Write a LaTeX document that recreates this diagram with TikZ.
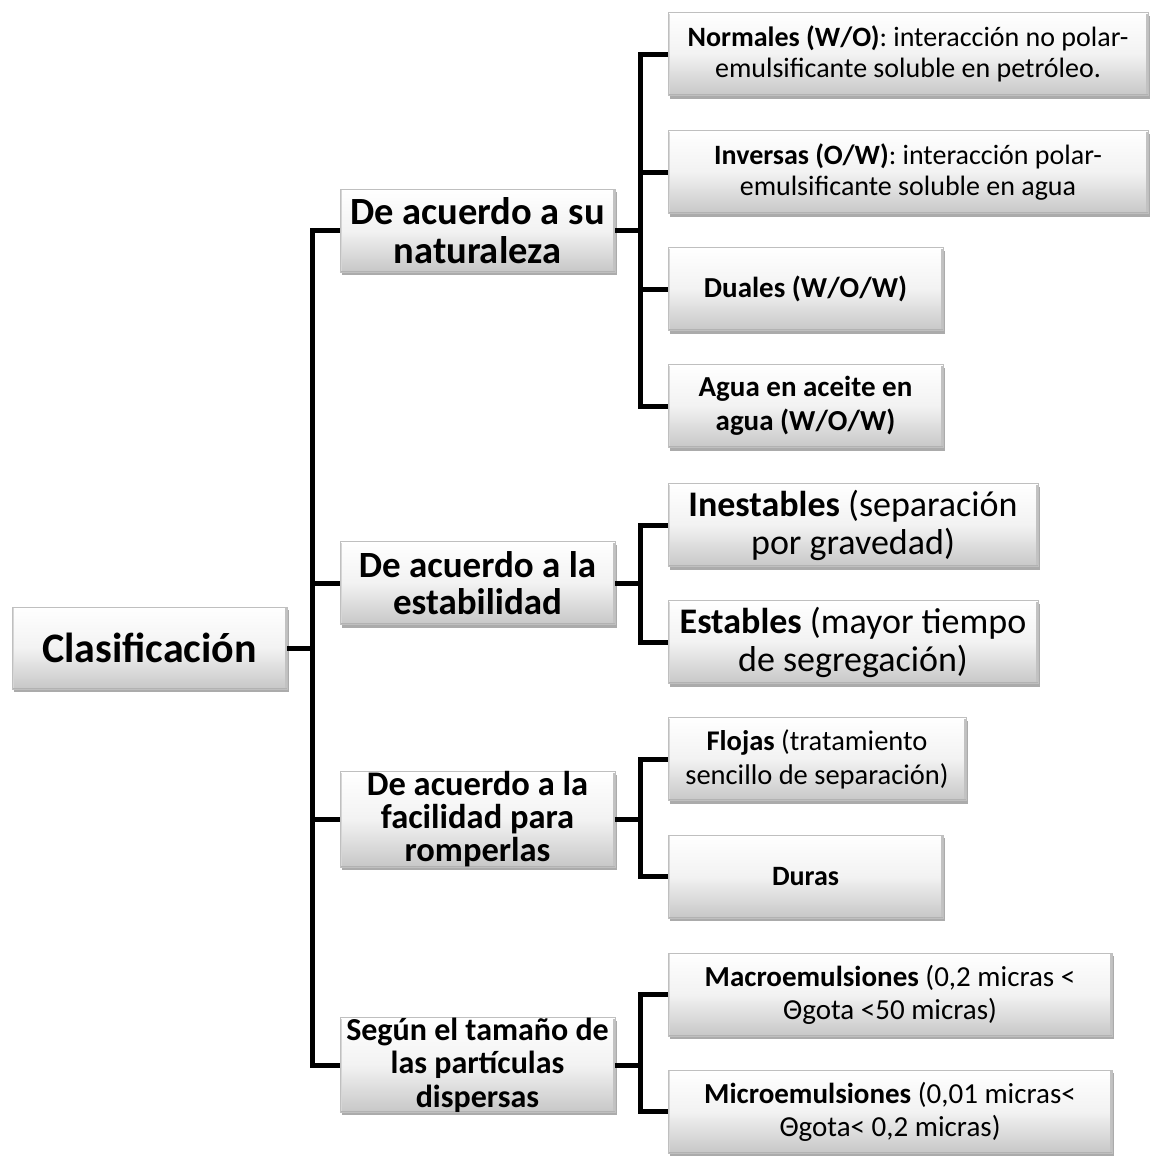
\documentclass[tikz,border=0pt]{standalone}
\usepackage{fontspec}
\setmainfont{Carlito}
\usetikzlibrary{shadows}
\tikzset{
  bx/.style={draw=black!25, line width=0.8pt,
    top color=white, bottom color=black!22, middle color=black!5,
    drop shadow={shadow xshift=2pt, shadow yshift=-3pt, fill=black, opacity=0.33},
    inner sep=0pt, align=center, text=black,
    path picture={
      \draw[black!16, line width=4pt] (path picture bounding box.south west) -- (path picture bounding box.north west);
      \draw[black!24, line width=4pt] (path picture bounding box.south east) -- (path picture bounding box.north east);
      \draw[white, line width=2pt] (path picture bounding box.north west) -- (path picture bounding box.north east);
      \draw[black!30, line width=3pt] (path picture bounding box.south west) -- (path picture bounding box.south east);
    }},
  lvone/.style={bx, minimum width=275pt, minimum height=83pt},
  lvtwo/.style={bx, minimum height=83pt},
  conn/.style={line width=5pt, black}
}
\begin{document}
\begin{tikzpicture}[x=1pt, y=-1pt]
\fill[white] (0,0) rectangle (1150,1173);
\useasboundingbox (0,0) rectangle (1150,1173);

% root
\node[bx, minimum width=275pt, minimum height=82pt, font=\bfseries\fontsize{42}{50}\selectfont] (cl) at (149.5,648) {Clasificación};

% level 1
\node[lvone, font=\bfseries\fontsize{38.5}{39}\selectfont] (l1) at (477.5,230.5) {De acuerdo a su\\naturaleza};
\node[lvone, font=\bfseries\fontsize{37}{37.5}\selectfont] (l2) at (477.5,583) {De acuerdo a la\\estabilidad};
\node[lvone, minimum height=85pt, font=\bfseries\fontsize{34.5}{33}\selectfont] (l3) at (477.5,819.5) {De acuerdo a la\\facilidad para\\romperlas};
\node[lvone, minimum height=84pt, font=\bfseries\fontsize{32}{33.5}\selectfont] (l4) at (477.5,1065) {Según el tamaño de\\las partículas\\dispersas};

% level 2 - naturaleza
\node[lvtwo, minimum width=480pt, font=\fontsize{28}{30.5}\selectfont] (a1) at (908,54)
  {\textbf{Normales (W/O)}: interacción no polar-\\emulsificante soluble en petróleo.};
\node[lvtwo, minimum width=480pt, font=\fontsize{28}{30.5}\selectfont] (a2) at (908,172)
  {\textbf{Inversas (O/W)}: interacción polar-\\emulsificante soluble en agua};
\node[lvtwo, minimum width=275pt, font=\bfseries\fontsize{29}{35}\selectfont] (a3) at (805.5,289)
  {Duales (W/O/W)};
\node[lvtwo, minimum width=275pt, font=\bfseries\fontsize{29}{34}\selectfont] (a4) at (805.5,406)
  {Agua en aceite en\\agua (W/O/W)};

% level 2 - estabilidad
\node[lvtwo, minimum width=370pt, font=\fontsize{36}{38}\selectfont] (b1) at (853,525)
  {\textbf{Inestables} (separación\\por gravedad)};
\node[lvtwo, minimum width=370pt, font=\fontsize{36}{38}\selectfont] (b2) at (853,642)
  {\textbf{Estables} (mayor tiempo\\de segregación)};

% level 2 - facilidad
\node[lvtwo, minimum width=298pt, font=\fontsize{28.5}{34}\selectfont] (c1) at (817,759)
  {\textbf{Flojas} (tratamiento\\sencillo de separación)};
\node[lvtwo, minimum width=275pt, font=\bfseries\fontsize{28}{32}\selectfont] (c2) at (805.5,876.5)
  {Duras};

% level 2 - tamaño
\node[lvtwo, minimum width=444pt, font=\fontsize{29}{33}\selectfont] (d1) at (890,994.5)
  {\textbf{Macroemulsiones} (0,2 micras <\\Θgota <50 micras)};
\node[lvtwo, minimum width=444pt, font=\fontsize{29}{33}\selectfont] (d2) at (890,1111.5)
  {\textbf{Microemulsiones} (0,01 micras<\\Θgota< 0,2 micras)};

% connectors root
\coordinate (trunk) at (313,0);
\draw[conn] (cl.east) -- (cl.east -| trunk);
\draw[conn] (l1.west) -- ++(-27,0) |- (l4.west);
\draw[conn] (l2.west) -- ++(-27,0);
\draw[conn] (l3.west) -- ++(-27,0);

% connectors group a
\draw[conn] (a1.west) -- ++(-27,0) |- (a4.west);
\draw[conn] (a2.west) -- ++(-27,0);
\draw[conn] (a3.west) -- ++(-27,0);
\draw[conn] (l1.east) -- ++(26,0);

% group b
\draw[conn] (b1.west) -- ++(-27,0) |- (b2.west);
\draw[conn] (l2.east) -- ++(26,0);

% group c
\draw[conn] (c1.west) -- ++(-27,0) |- (c2.west);
\draw[conn] (l3.east) -- ++(26,0);

% group d
\draw[conn] (d1.west) -- ++(-27,0) |- (d2.west);
\draw[conn] (l4.east) -- ++(26,0);
\end{tikzpicture}
\end{document}
